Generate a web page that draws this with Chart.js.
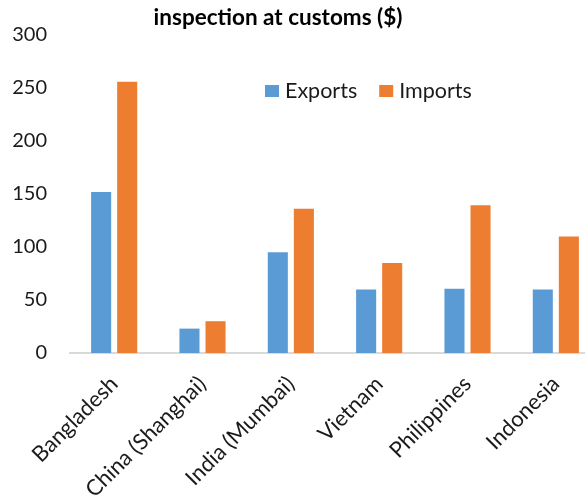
<!DOCTYPE html>
<html>
<head>
<meta charset="utf-8">
<script src="https://cdn.jsdelivr.net/npm/chart.js@4/dist/chart.umd.min.js"></script>
<style>
  html, body { margin: 0; padding: 0; background: #ffffff; overflow: hidden; }
  #wrap { position: relative; width: 600px; height: 498px; }
</style>
</head>
<body>
<div id="wrap"><canvas id="chart"></canvas></div>
<script>
// Ports and the cost of inspection at customs, in dollars
const chartTitle = 'inspection at customs ($)';
const categories = ['Bangladesh', 'China (Shanghai)', 'India (Mumbai)', 'Vietnam', 'Philippines', 'Indonesia'];
const seriesNames = ['Exports', 'Imports'];
const exportsValues = [152, 23, 95, 60, 60.5, 60];
const importsValues = [256, 30, 136, 85, 139.5, 110];
const yTicks = [0, 50, 100, 150, 200, 250, 300];

const BLUE = '#5B9BD5';
const ORANGE = '#ED7D31';
const FONT = 'Lato, "Open Sans", sans-serif';

// Title and legend sit over the plot, drawn after the bars
const overlay = {
  id: 'overlay',
  afterDraw(chart) {
    const ctx = chart.ctx;
    ctx.save();
    ctx.fillStyle = '#000000';
    ctx.font = 'bold 22.5px ' + FONT;
    ctx.textAlign = 'center';
    ctx.textBaseline = 'middle';
    ctx.fillText(chartTitle, 278, 18);

    ctx.font = '21.5px ' + FONT;
    ctx.textAlign = 'left';
    let x = 265;
    const y = 91;
    chart.data.datasets.forEach((ds) => {
      ctx.fillStyle = ds.backgroundColor;
      ctx.fillRect(x, y - 6, 14, 12);
      ctx.fillStyle = '#1a1a1a';
      ctx.fillText(ds.label, x + 20, y);
      x += 20 + ctx.measureText(ds.label).width + 22;
    });
    ctx.restore();
  }
};

new Chart(document.getElementById('chart'), {
  type: 'bar',
  data: {
    labels: categories,
    datasets: [
      { label: seriesNames[0], data: exportsValues, backgroundColor: BLUE },
      { label: seriesNames[1], data: importsValues, backgroundColor: ORANGE }
    ]
  },
  options: {
    responsive: true,
    maintainAspectRatio: false,
    animation: false,
    devicePixelRatio: 1,
    layout: { padding: { top: 26, right: 0, left: 0, bottom: 0 } },
    categoryPercentage: 0.59,
    barPercentage: 0.77,
    plugins: {
      legend: { display: false },
      title: { display: false },
      tooltip: { enabled: false }
    },
    scales: {
      x: {
        grid: { display: false, drawTicks: false },
        border: { display: true, color: '#D9D9D9', width: 2 },
        ticks: {
          autoSkip: false,
          maxRotation: 45,
          minRotation: 45,
          padding: 18,
          color: '#1a1a1a',
          font: { family: FONT, size: 22 }
        },
        afterFit(scale) { scale.height = 145; }
      },
      y: {
        min: 0,
        max: 300,
        afterBuildTicks(scale) { scale.ticks = yTicks.map(v => ({ value: v })); },
        grid: { display: false, drawTicks: false },
        border: { display: false },
        ticks: {
          padding: 23,
          color: '#1a1a1a',
          font: { family: FONT, size: 20 }
        },
        afterFit(scale) { scale.width = 70; }
      }
    }
  },
  plugins: [overlay]
});
</script>
</body>
</html>
